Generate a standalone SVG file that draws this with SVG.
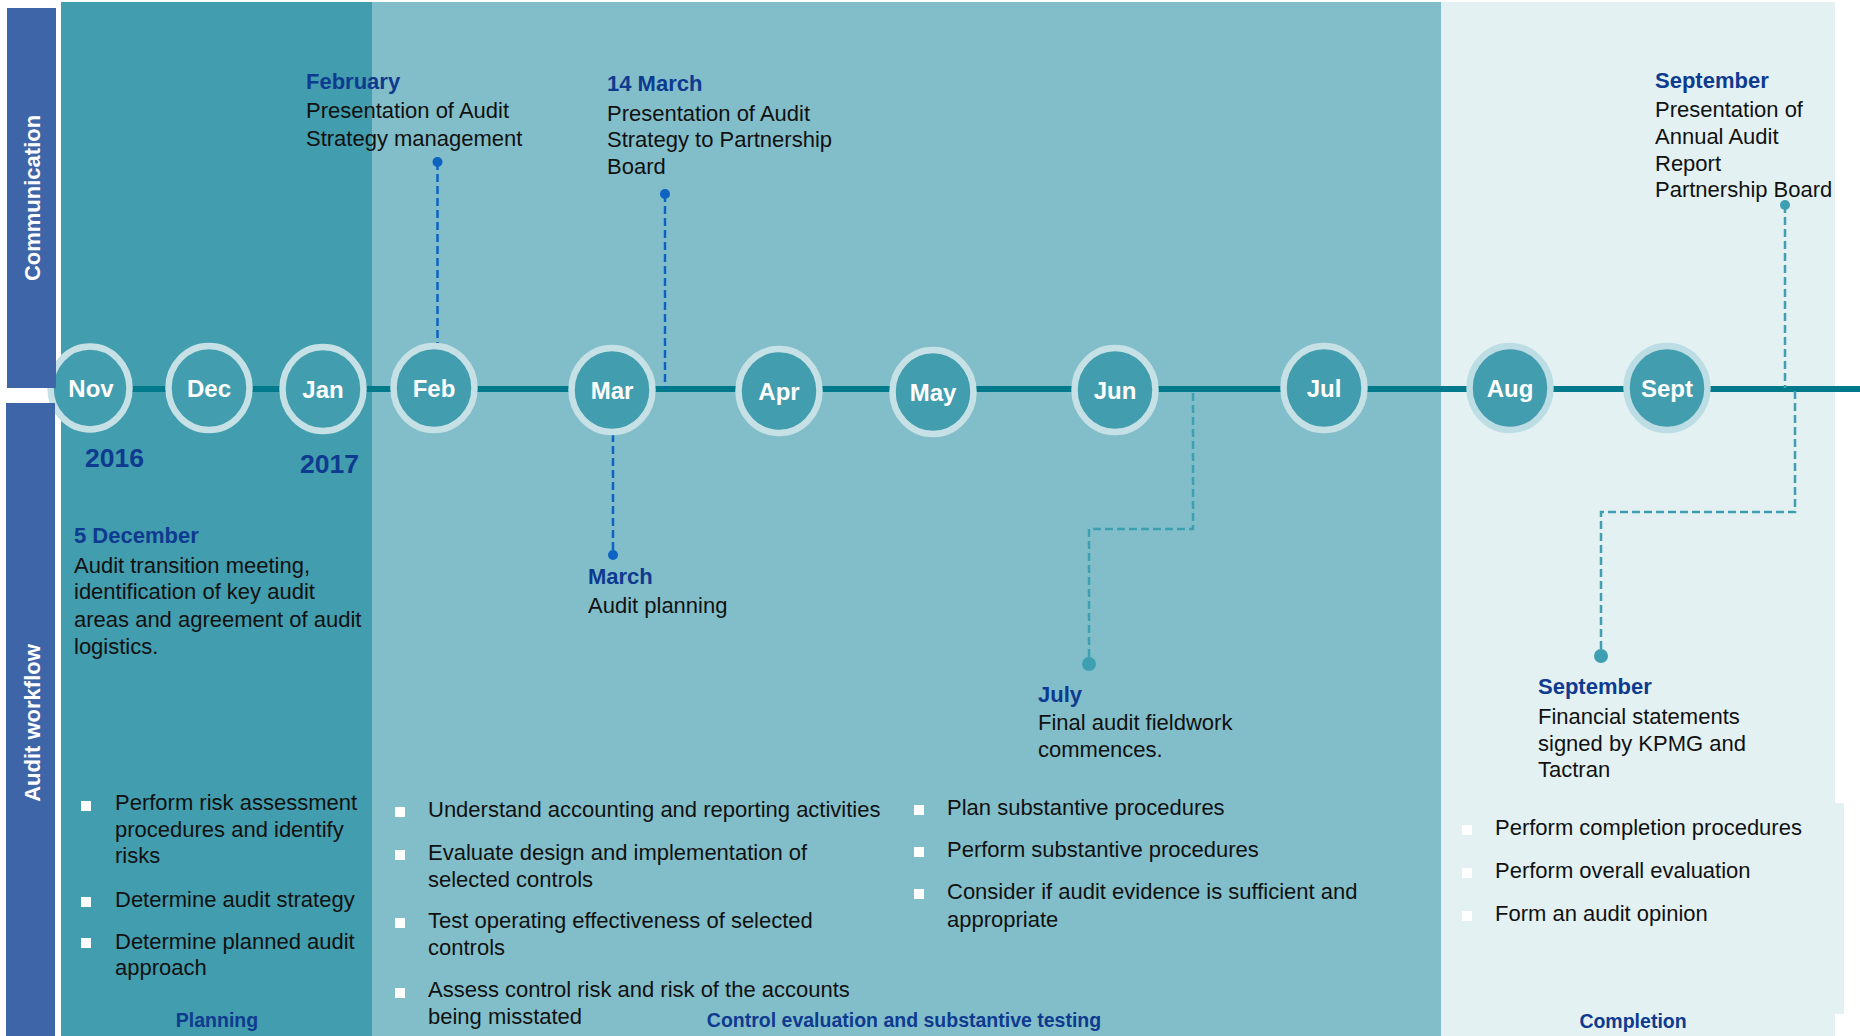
<svg xmlns="http://www.w3.org/2000/svg" width="1860" height="1036" viewBox="0 0 1860 1036">
<style>
text{font-family:"Liberation Sans",Arial,sans-serif}
.t{font-size:22px;fill:#111}
.h{font-size:22px;font-weight:bold;fill:#0E3A8F}
.yr{font-size:26.5px;font-weight:bold;fill:#0E3A8F}
.ph{font-size:19.5px;font-weight:bold;fill:#0E3A8F;text-anchor:middle}
.side{font-size:22px;font-weight:bold;fill:#fff;text-anchor:middle}
.mo{font-size:24px;font-weight:bold;fill:#fff;text-anchor:middle}
.ring{fill:#429DAE;stroke:#C6E1E6;stroke-width:6.5}
.ring2{fill:#429DAE;stroke:#BCDDE3;stroke-width:6.5}
.bl{fill:#fff}
.cb{fill:none;stroke:#0D62C2;stroke-width:2.5;stroke-dasharray:8 4}
.ct{fill:none;stroke:#3E9FB3;stroke-width:2.5;stroke-dasharray:8 4}
</style>
<rect x="0" y="0" width="1860" height="1036" fill="#fff"/>
<g id="panels">
<rect x="61" y="2" width="311" height="1034" fill="#429DAE"/>
<rect x="372" y="2" width="1069" height="1034" fill="#82BEC9"/>
<rect x="1441" y="2" width="394" height="1034" fill="#E3F1F3"/>
<rect x="1441" y="803" width="403" height="211" fill="#E3F1F3"/>
</g>
<g id="timeline">
<line x1="91" y1="389" x2="1860" y2="389" stroke="#027A8C" stroke-width="6"/>
</g>
<g id="connectors">
<line class="cb" x1="437.5" y1="162" x2="437.5" y2="346"/>
<circle cx="437.5" cy="162" r="5" fill="#0D62C2"/>
<line class="cb" x1="665" y1="194" x2="665" y2="388"/>
<circle cx="665" cy="194" r="5" fill="#0D62C2"/>
<line class="cb" x1="613" y1="434" x2="613" y2="555"/>
<circle cx="613" cy="555" r="5" fill="#0D62C2"/>
<path class="ct" d="M1193 393 V529 H1089 V664"/>
<circle cx="1089" cy="664" r="7" fill="#3E9FB3"/>
<line class="ct" x1="1785" y1="205" x2="1785" y2="388"/>
<circle cx="1785" cy="205" r="5" fill="#3E9FB3"/>
<path class="ct" d="M1795 391 V512 H1601 V656"/>
<circle cx="1601" cy="656" r="7" fill="#3E9FB3"/>
</g>
<g id="nov"><ellipse class="ring" cx="90" cy="388" rx="39.5" ry="41.5"/><text class="mo" x="91" y="397">Nov</text></g>
<g id="dec"><ellipse class="ring" cx="209" cy="388" rx="40.5" ry="42"/><text class="mo" x="209" y="397">Dec</text></g>
<g id="jan"><ellipse class="ring" cx="323" cy="389" rx="40.5" ry="42"/><text class="mo" x="323" y="398">Jan</text></g>
<g id="feb"><ellipse class="ring" cx="434" cy="388" rx="40.5" ry="42"/><text class="mo" x="434" y="397">Feb</text></g>
<g id="mar"><ellipse class="ring" cx="612" cy="390" rx="40.5" ry="42"/><text class="mo" x="612" y="399">Mar</text></g>
<g id="apr"><ellipse class="ring" cx="779" cy="391" rx="40.5" ry="42"/><text class="mo" x="779" y="400">Apr</text></g>
<g id="may"><ellipse class="ring" cx="933" cy="392" rx="40.5" ry="42"/><text class="mo" x="933" y="401">May</text></g>
<g id="jun"><ellipse class="ring" cx="1115" cy="390" rx="40.5" ry="42"/><text class="mo" x="1115" y="399">Jun</text></g>
<g id="jul"><ellipse class="ring" cx="1324" cy="388" rx="40.5" ry="42"/><text class="mo" x="1324" y="397">Jul</text></g>
<g id="aug"><ellipse class="ring2" cx="1510" cy="388" rx="40.5" ry="42"/><text class="mo" x="1510" y="397">Aug</text></g>
<g id="sept"><ellipse class="ring2" cx="1667" cy="388" rx="40.5" ry="42"/><text class="mo" x="1667" y="397">Sept</text></g>
<g id="sidebars">
<rect x="7" y="8" width="49" height="380" fill="#3F65A9"/>
<rect x="6" y="403" width="49" height="633" fill="#3F65A9"/>
<text class="side" transform="translate(40,198) rotate(-90)">Communication</text>
<text class="side" transform="translate(40,723) rotate(-90)">Audit workflow</text>
</g>
<g id="years">
<text class="yr" x="85" y="467">2016</text>
<text class="yr" x="300" y="473">2017</text>
</g>
<g id="note-feb">
<text class="h" x="306" y="89">February</text>
<text class="t" x="306" y="118">Presentation of Audit</text>
<text class="t" x="306" y="146">Strategy management</text>
</g>
<g id="note-14mar">
<text class="h" x="607" y="91">14 March</text>
<text class="t" x="607" y="121">Presentation of Audit</text>
<text class="t" x="607" y="147">Strategy to Partnership</text>
<text class="t" x="607" y="174">Board</text>
</g>
<g id="note-sep-top">
<text class="h" x="1655" y="88">September</text>
<text class="t" x="1655" y="117">Presentation of</text>
<text class="t" x="1655" y="144">Annual Audit</text>
<text class="t" x="1655" y="171">Report</text>
<text class="t" x="1655" y="197">Partnership Board</text>
</g>
<g id="note-5dec">
<text class="h" x="74" y="543">5 December</text>
<text class="t" x="74" y="573">Audit transition meeting,</text>
<text class="t" x="74" y="599">identification of key audit</text>
<text class="t" x="74" y="627">areas and agreement of audit</text>
<text class="t" x="74" y="654">logistics.</text>
</g>
<g id="note-march">
<text class="h" x="588" y="584">March</text>
<text class="t" x="588" y="613">Audit planning</text>
</g>
<g id="note-july">
<text class="h" x="1038" y="702">July</text>
<text class="t" x="1038" y="730">Final audit fieldwork</text>
<text class="t" x="1038" y="757">commences.</text>
</g>
<g id="note-sep-bottom">
<text class="h" x="1538" y="694">September</text>
<text class="t" x="1538" y="724">Financial statements</text>
<text class="t" x="1538" y="751">signed by KPMG and</text>
<text class="t" x="1538" y="777">Tactran</text>
</g>
<g id="list-planning">
<rect class="bl" x="81" y="801" width="10" height="10"/>
<rect class="bl" x="81" y="897" width="10" height="10"/>
<rect class="bl" x="81" y="938" width="10" height="10"/>
<text class="t" x="115" y="810">Perform risk assessment</text>
<text class="t" x="115" y="837">procedures and identify</text>
<text class="t" x="115" y="863">risks</text>
<text class="t" x="115" y="907">Determine audit strategy</text>
<text class="t" x="115" y="949">Determine planned audit</text>
<text class="t" x="115" y="975">approach</text>
<text class="ph" x="217" y="1027">Planning</text>
</g>
<g id="list-control">
<rect class="bl" x="395" y="807" width="10" height="10"/>
<rect class="bl" x="395" y="850" width="10" height="10"/>
<rect class="bl" x="395" y="918" width="10" height="10"/>
<rect class="bl" x="395" y="988" width="10" height="10"/>
<text class="t" x="428" y="817">Understand accounting and reporting activities</text>
<text class="t" x="428" y="860">Evaluate design and implementation of</text>
<text class="t" x="428" y="887">selected controls</text>
<text class="t" x="428" y="928">Test operating effectiveness of selected</text>
<text class="t" x="428" y="955">controls</text>
<text class="t" x="428" y="997">Assess control risk and risk of the accounts</text>
<text class="t" x="428" y="1024">being misstated</text>
<text class="ph" x="904" y="1027">Control evaluation and substantive testing</text>
</g>
<g id="list-substantive">
<rect class="bl" x="914" y="805" width="10" height="10"/>
<rect class="bl" x="914" y="847" width="10" height="10"/>
<rect class="bl" x="914" y="889" width="10" height="10"/>
<text class="t" x="947" y="815">Plan substantive procedures</text>
<text class="t" x="947" y="857">Perform substantive procedures</text>
<text class="t" x="947" y="899">Consider if audit evidence is sufficient and</text>
<text class="t" x="947" y="927">appropriate</text>
</g>
<g id="list-completion">
<rect class="bl" x="1462" y="825" width="10" height="10"/>
<rect class="bl" x="1462" y="868" width="10" height="10"/>
<rect class="bl" x="1462" y="911" width="10" height="10"/>
<text class="t" x="1495" y="835">Perform completion procedures</text>
<text class="t" x="1495" y="878">Perform overall evaluation</text>
<text class="t" x="1495" y="921">Form an audit opinion</text>
<text class="ph" x="1633" y="1028">Completion</text>
</g>
</svg>
